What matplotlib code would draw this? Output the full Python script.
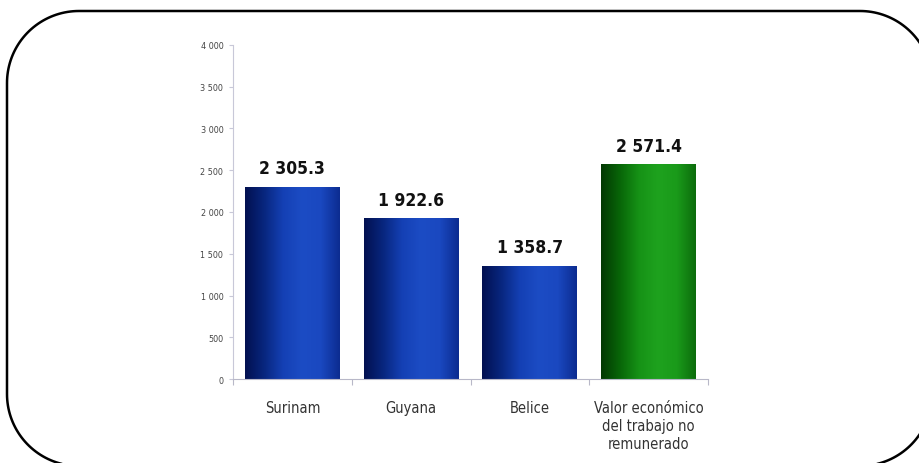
import numpy as np
import matplotlib.pyplot as plt
from matplotlib.patches import Polygon
from matplotlib.colors import LinearSegmentedColormap
from matplotlib import font_manager

categories = ["Surinam", "Guyana", "Belice", "Valor económico\ndel trabajo no\nremunerado"]
values = [2305.3, 1922.6, 1358.7, 2571.4]
value_labels = ["2 305.3", "1 922.6", "1 358.7", "2 571.4"]
yticks = [0, 500, 1000, 1500, 2000, 2500, 3000, 3500, 4000]
ytick_labels = ["0", "500", "1 000", "1 500", "2 000", "2 500", "3 000", "3 500", "4 000"]

names = {f.name for f in font_manager.fontManager.ttflist}
narrow = "Liberation Sans Narrow" if "Liberation Sans Narrow" in names else "DejaVu Sans"

W, H = 919, 464
fig = plt.figure(figsize=(W / 100, H / 100), dpi=100)

# rounded frame, pixel coords with y pointing down
bg = fig.add_axes([0, 0, 1, 1])
bg.set_xlim(0, W)
bg.set_ylim(H, 0)
bg.axis("off")
x0, y0, x1, y1, r = 7, 12, 932, 467, 72
t = np.linspace(0, np.pi / 2, 40)
pts = []
for cx, cy, a0 in [(x0 + r, y0 + r, np.pi), (x1 - r, y0 + r, 1.5 * np.pi),
                   (x1 - r, y1 - r, 0), (x0 + r, y1 - r, 0.5 * np.pi)]:
    pts += list(zip(cx + r * np.cos(a0 + t), cy + r * np.sin(a0 + t)))
bg.add_patch(Polygon(pts, closed=True, fill=False, edgecolor="black", lw=1.8,
                     joinstyle="round", clip_on=False))

# plot area in pixels
left, right, top, bottom = 233, 708, 46, 380
ax = fig.add_axes([left / W, 1 - bottom / H, (right - left) / W, (bottom - top) / H])
ax.set_xlim(-0.5, 3.5)
ax.set_ylim(0, 4000)
ax.patch.set_alpha(0)

blue = LinearSegmentedColormap.from_list("b", ["#021050", "#08267e", "#1440b4", "#1c4cc4", "#1a48c0", "#0c2c90"])
green = LinearSegmentedColormap.from_list("g", ["#033803", "#086608", "#169216", "#1ea21e", "#1a9a1a", "#0c6c0c"])
cmaps = [blue, blue, blue, green]

bars = ax.bar(range(len(values)), values, width=0.8, color="none", edgecolor="none")
grad = np.linspace(0, 1, 256).reshape(1, -1)
for b, cm in zip(bars, cmaps):
    bx, bw, bh = b.get_x(), b.get_width(), b.get_height()
    im = ax.imshow(grad, cmap=cm, aspect="auto", extent=[bx, bx + bw, 0, bh], zorder=2)
    im.set_clip_path(b)

for i, (v, lab) in enumerate(zip(values, value_labels)):
    ax.text(i, v + 110, lab, ha="center", va="bottom", fontsize=12.5, fontweight="bold",
            family=narrow, fontstretch="condensed", color="#111111")

ax.set_yticks(yticks)
ax.set_yticklabels(ytick_labels, family=narrow, fontstretch="condensed", fontsize=6.5, color="#444444")
ax.set_xticks([-0.5, 0.5, 1.5, 2.5, 3.5])
ax.set_xticklabels([])
ax.tick_params(axis="x", length=4, color="#b8b8c8", direction="out")
ax.tick_params(axis="y", length=3, color="#c8c8d8", direction="out", pad=4)
for i, c in enumerate(categories):
    ax.text(i, -250, c, ha="center", va="top", fontsize=10.5, family=narrow,
            fontstretch="condensed", color="#333333", linespacing=1.25)

for s in ["top", "right"]:
    ax.spines[s].set_visible(False)
ax.spines["left"].set_color("#c8c8d8")
ax.spines["bottom"].set_color("#b8b8c8")

fig.savefig("out.png", dpi=100)
